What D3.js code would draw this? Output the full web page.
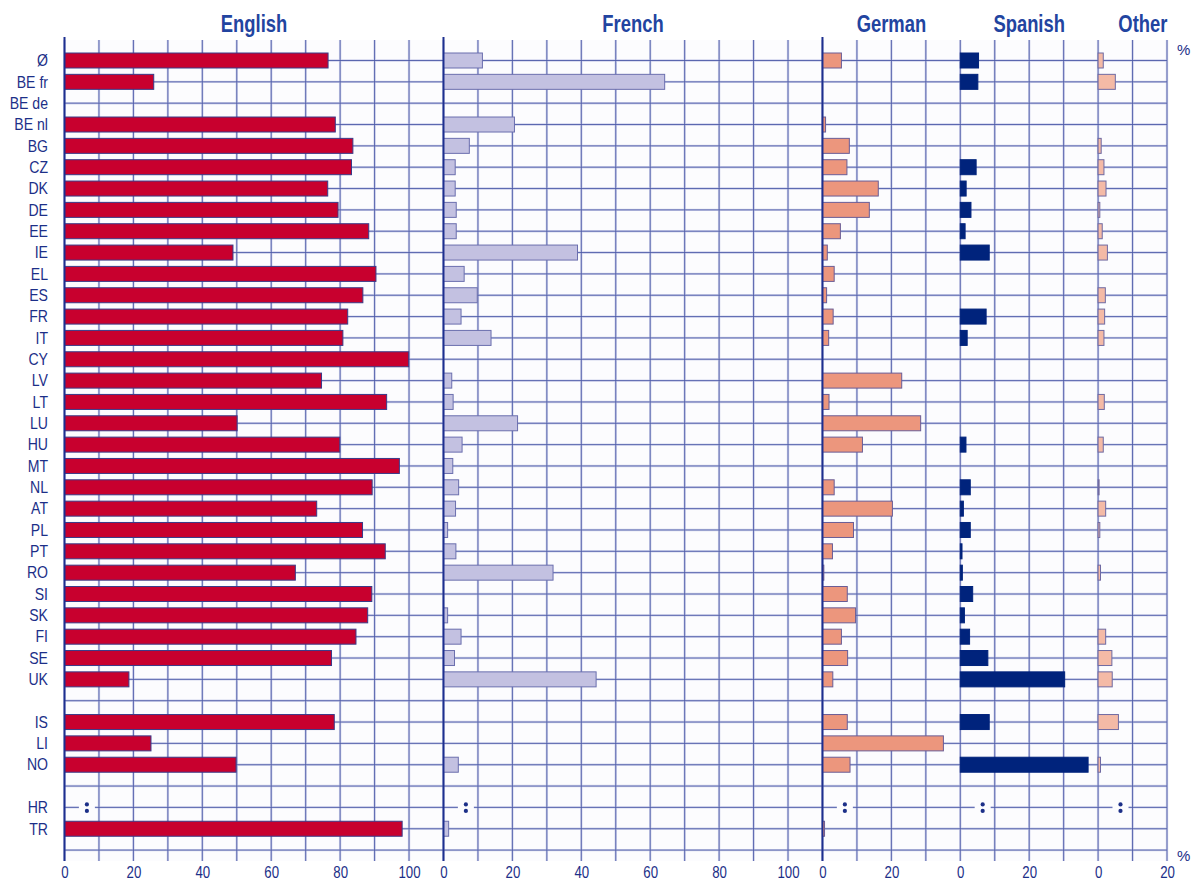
<!DOCTYPE html>
<html><head><meta charset="utf-8">
<script src="https://cdn.jsdelivr.net/npm/d3@7"></script>
<style>body{margin:0;background:#fff} svg{display:block}</style>
</head><body><svg id="c" width="1197" height="880"></svg>
<script>
// ---- data ----
const categories = ["Ø","BE fr","BE de","BE nl","BG","CZ","DK","DE","EE","IE","EL","ES","FR","IT","CY","LV","LT","LU","HU","MT","NL","AT","PL","PT","RO","SI","SK","FI","SE","UK","","IS","LI","NO","","HR","TR"];
const notAvailable = ["HR"];
const english = [76.5,25.9,null,78.6,83.7,83.3,76.4,79.4,88.3,48.9,90.4,86.6,82.2,80.8,99.9,74.6,93.5,50.1,79.9,97.2,89.3,73.2,86.5,93.1,67.0,89.2,88.0,84.6,77.5,18.7,null,78.3,25.1,49.8,null,null,98.0];
const french = [11.3,64.2,null,20.6,7.5,3.4,3.4,3.7,3.7,38.9,6.0,9.8,5.1,13.8,null,2.4,2.8,21.5,5.4,2.7,4.4,3.5,1.2,3.6,31.8,null,1.2,5.1,3.2,44.3,null,null,null,4.3,null,null,1.5];
const german = [5.5,null,null,0.9,7.8,7.1,16.2,13.6,5.2,1.4,3.4,1.2,3.1,1.8,null,23.0,1.9,28.5,11.6,null,3.4,20.3,9.0,2.9,0.4,7.2,9.6,5.5,7.3,3.0,null,7.2,35.1,8.0,null,null,0.6];
const spanish = [5.3,5.1,null,null,null,4.6,1.7,3.1,1.4,8.4,null,null,7.5,2.0,null,null,null,null,1.65,null,2.9,0.9,2.9,0.5,0.6,3.6,1.2,2.7,8.0,30.3,null,8.4,null,37.1,null,null,null];
const other = [1.5,5.0,null,null,0.9,1.7,2.3,0.5,1.2,2.7,null,2.1,1.9,1.7,null,null,1.8,null,1.5,null,0.2,2.2,0.5,null,0.7,null,null,2.2,4.0,4.1,null,5.9,null,0.7,null,null,null];
const panelNames = ["English","French","German","Spanish","Other"];
const panelSpans = [110,110,40,40,20];
const panelTicks = [[0,20,40,60,80,100],[0,20,40,60,80,100],[0,20],[0,20],[0,20]];
const naPosition = 6.5;

// ---- styles ----
const fills = ["#c8002e","#c3c1e1","#ec967d","#00237c","#f4baa6"];
const strokes = ["#3a3a88","#6b6fae","#6a5d96","#00237c","#6f6aa2"];
const allValues = [english, french, german, spanish, other];
const navy = "#1c2f88", titleBlue = "#2244a0";
const font = "'Liberation Sans Narrow','Arial Narrow','Liberation Sans',Arial,sans-serif";

const svg = d3.select("#c");
const total = d3.sum(panelSpans);
const gx = d3.scaleLinear().domain([0,total]).range([64.5,1167]);
const nRows = categories.length;
const y = d3.scaleLinear().domain([0,nRows]).range([60.5,60.5+nRows*21.34]);
const yTop = 40, yBot = 861;

svg.append("rect").attr("x",gx(0)).attr("y",yTop).attr("width",gx(total)-gx(0)).attr("height",yBot-yTop).attr("fill","#fcfcfe");

// grid
const g = svg.append("g");
const hIdx = d3.range(0,nRows+1);
const vVals = d3.range(0,total+1,10);
[["#d2d5ec",2.4],["#4d5aa8",0.9]].forEach(([c,w])=>{
  g.append("g").selectAll("line").data(hIdx).join("line")
    .attr("x1",gx(0)).attr("x2",gx(total)).attr("y1",d=>y(d)).attr("y2",d=>y(d))
    .attr("stroke",c).attr("stroke-width",w);
  g.append("g").selectAll("line").data(vVals).join("line")
    .attr("x1",d=>gx(d)).attr("x2",d=>gx(d)).attr("y1",yTop).attr("y2",yBot)
    .attr("stroke",c).attr("stroke-width",w);
});

let offset = 0;
panelNames.forEach((name,p)=>{
  const span = panelSpans[p];
  const xs = d3.scaleLinear().domain([0,span]).range([gx(offset),gx(offset+span)]);
  const vals = allValues[p];
  const bars = vals.map((v,i)=>({v,i})).filter(d=>d.v!=null);
  svg.append("g").selectAll("rect").data(bars).join("rect")
    .attr("x",xs(0)).attr("y",d=>y(d.i)-7.5)
    .attr("width",d=>Math.max(1,xs(d.v)-xs(0))).attr("height",15)
    .attr("fill",fills[p]).attr("stroke",strokes[p]).attr("stroke-width",1);
  notAvailable.forEach(c=>{
    const i = categories.indexOf(c);
    svg.append("rect").attr("x",xs(naPosition)-8).attr("y",y(i)-3).attr("width",16).attr("height",6).attr("fill","#fcfcfe");
    svg.append("circle").attr("cx",xs(naPosition)).attr("cy",y(i)-3).attr("r",2.1).attr("fill",navy);
    svg.append("circle").attr("cx",xs(naPosition)).attr("cy",y(i)+3.5).attr("r",2.1).attr("fill",navy);
  });
  if (p<3) svg.append("line").attr("x1",xs(0)).attr("x2",xs(0)).attr("y1",37).attr("y2",yBot)
      .attr("stroke","#1d2f8f").attr("stroke-width",2);
  const ax = svg.append("g").attr("transform",`translate(0,${yBot})`)
    .call(d3.axisBottom(xs).tickValues(panelTicks[p]).tickSize(0).tickPadding(5).tickFormat(d3.format("d")));
  ax.select(".domain").remove();
  ax.selectAll("text").attr("font-family",font).attr("font-size",17).attr("fill",navy)
    .attr("transform","scale(0.78,1)");
  const cx = p<2 ? xs(55) : (p===4 ? xs(13) : (xs(0)+xs(span))/2);
  svg.append("text").attr("transform",`translate(${cx},32) scale(0.8,1)`).attr("text-anchor","middle")
    .attr("font-family",font).attr("font-weight","bold").attr("font-size",23).attr("fill",titleBlue).text(name);
  offset += span;
});

// row labels
svg.append("g").selectAll("text").data(categories.map((c,i)=>({c,i}))).join("text")
  .attr("transform",d=>`translate(48,${y(d.i)}) scale(0.88,1)`).attr("dy","0.36em").attr("text-anchor","end")
  .attr("font-family",font).attr("font-size",16).attr("fill",navy).text(d=>d.c);

// percent signs
svg.append("text").attr("x",1177).attr("y",55).attr("font-family",font).attr("font-size",15).attr("fill",navy).text("%");
svg.append("text").attr("x",1177).attr("y",861).attr("font-family",font).attr("font-size",15).attr("fill",navy).text("%");
</script></body></html>
